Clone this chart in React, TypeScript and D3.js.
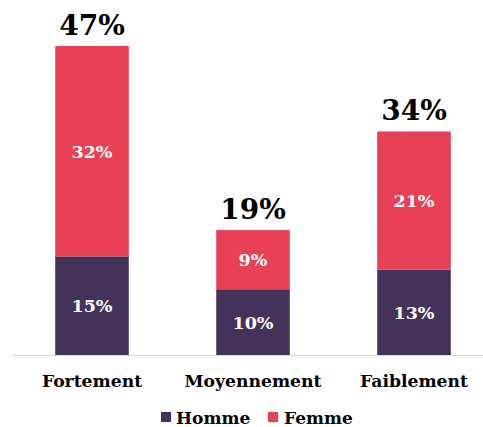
import React from "react";
import * as d3 from "d3";

const categories = ["Fortement", "Moyennement", "Faiblement"];
const homme = [15, 10, 13];
const femme = [32, 9, 21];
const totals = [47, 19, 34];
const seriesNames = ["Homme", "Femme"];
const colors = ["#45325a", "#e84054"];

const W = 483;
const H = 427;
const FONT = "'DejaVu Serif', serif";

export default function App() {
  const x = d3
    .scaleBand<string>()
    .domain(categories)
    .range([11.5, 494.5])
    .paddingInner(0.543)
    .paddingOuter(0.2715);
  const y = d3.scaleLinear().domain([0, 47]).range([355, 46]);
  const bw = x.bandwidth();

  return (
    <svg
      width={W}
      height={H}
      style={{ position: "absolute", left: 0, top: 0, background: "#fff" }}
      fontFamily={FONT}
    >
      {categories.map((c, i) => {
        const x0 = x(c)!;
        const cx = x0 + bw / 2;
        const h0 = homme[i];
        const f0 = femme[i];
        return (
          <g key={c}>
            <rect x={x0} y={y(h0)} width={bw} height={y(0) - y(h0)} fill={colors[0]} />
            <rect x={x0} y={y(h0 + f0)} width={bw} height={y(h0) - y(h0 + f0)} fill={colors[1]} />
            <text x={cx} y={(y(0) + y(h0)) / 2 + 6.5} textAnchor="middle" fill="#fff" fontWeight="bold" fontSize={17.5}>
              {h0}%
            </text>
            <text x={cx} y={(y(h0) + y(h0 + f0)) / 2 + 6.5} textAnchor="middle" fill="#fff" fontWeight="bold" fontSize={17.5}>
              {f0}%
            </text>
            <text x={cx} y={y(totals[i]) - 11} textAnchor="middle" fill="#000" fontWeight="bold" fontSize={28}>
              {totals[i]}%
            </text>
            <text x={cx} y={387} textAnchor="middle" fill="#000" fontWeight="bold" fontSize={17.2}>
              {c}
            </text>
          </g>
        );
      })}
      <line x1={12} x2={W} y1={355.5} y2={355.5} stroke="#d9d9d9" strokeWidth={1} />
      <g>
        <rect x={161} y={412} width={10} height={10} fill={colors[0]} />
        <text x={176} y={424} fontWeight="bold" fontSize={17} fill="#000">{seriesNames[0]}</text>
        <rect x={268} y={412} width={10} height={10} fill={colors[1]} />
        <text x={284} y={424} fontWeight="bold" fontSize={17} fill="#000">{seriesNames[1]}</text>
      </g>
    </svg>
  );
}
